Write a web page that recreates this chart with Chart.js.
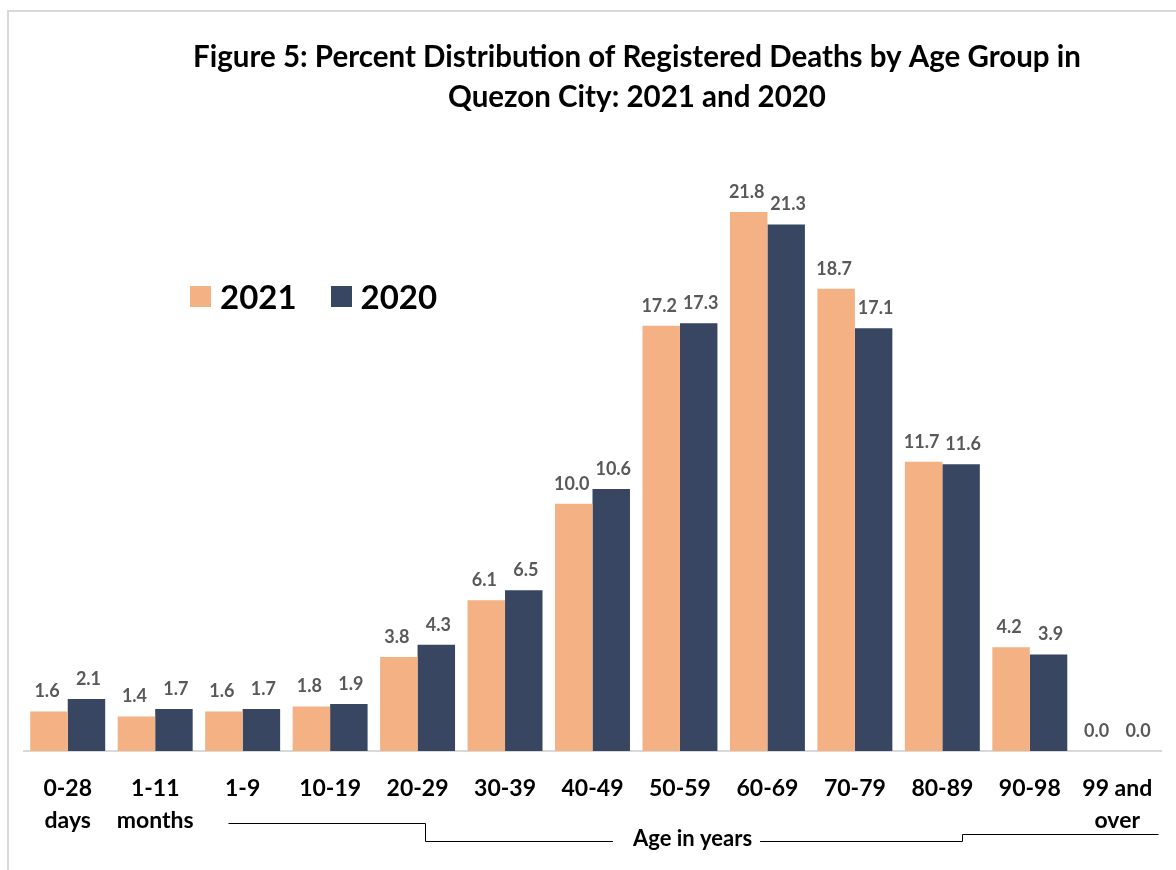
<!DOCTYPE html>
<html>
<head>
<meta charset="utf-8">
<script src="https://cdn.jsdelivr.net/npm/chart.js@4.4.1/dist/chart.umd.min.js"></script>
<style>
  body { margin: 0; background: #fff; font-family: Lato, "Open Sans", sans-serif; }
  #frame { position: absolute; left: 7px; top: 10px; width: 1300px; height: 1000px; border: 2px solid #d9d9d9; }
  #wrap { position: absolute; left: 0; top: 0; width: 1176px; height: 870px; }
  #legend-container ul { list-style: none; margin: 0; padding: 0; display: flex; }
  #legend-container li { display: flex; align-items: center; margin-right: 34px; font-size: 33px; font-weight: bold; color: #000; }
  #legend-container li span { display: inline-block; width: 21px; height: 21px; margin-right: 9px; }
  #legend-container { position: absolute; left: 190px; top: 276px; }
</style>
</head>
<body>
<div id="frame"></div>
<div id="wrap">
  <canvas id="myChart" width="1176" height="870"></canvas>
</div>
<div id="legend-container"></div>
<script>
const categories = [['0-28', 'days'], ['1-11', 'months'], '1-9', '10-19', '20-29', '30-39', '40-49',
  '50-59', '60-69', '70-79', '80-89', '90-98', ['99 and', 'over']];
const values2021 = [1.6, 1.4, 1.6, 1.8, 3.8, 6.1, 10.0, 17.2, 21.8, 18.7, 11.7, 4.2, 0.0];
const values2020 = [2.1, 1.7, 1.7, 1.9, 4.3, 6.5, 10.6, 17.3, 21.3, 17.1, 11.6, 3.9, 0.0];
const seriesNames = ['2021', '2020'];
const colors = ['#F4B183', '#384661'];
const titleLines = ['Figure 5: Percent Distribution of Registered Deaths by Age Group in', 'Quezon City: 2021 and 2020'];

// value labels above each bar
const valueLabels = {
  id: 'valueLabels',
  afterDatasetsDraw(chart) {
    const ctx = chart.ctx;
    ctx.save();
    ctx.font = 'bold 18px Lato';
    ctx.fillStyle = '#595959';
    ctx.textAlign = 'center';
    ctx.textBaseline = 'middle';
    chart.data.datasets.forEach((ds, i) => {
      chart.getDatasetMeta(i).data.forEach((bar, j) => {
        // nudge the pair apart a little, like the original labels
        const shift = i === 0 ? -2 : 2;
        ctx.fillText(ds.data[j].toFixed(1), bar.x + shift, bar.y - 20);
      });
    });
    ctx.restore();
  }
};

// title + "Age in years" bracket
const decorations = {
  id: 'decorations',
  afterDraw(chart) {
    const ctx = chart.ctx;
    const x = chart.scales.x;
    ctx.save();
    ctx.fillStyle = '#000';
    ctx.textAlign = 'center';
    ctx.textBaseline = 'middle';
    ctx.font = 'bold 29.5px Lato';
    ctx.fillText(titleLines[0], 637, 57);
    ctx.fillText(titleLines[1], 637, 97);

    const px = v => Math.round(x.getPixelForValue(v)) + 0.5;
    ctx.strokeStyle = '#000';
    ctx.lineWidth = 1;
    ctx.font = 'bold 22px Lato';
    const label = 'Age in years';
    const tx = px(7.14);
    const tw = ctx.measureText(label).width;
    ctx.fillText(label, tx, 839);
    ctx.beginPath();
    ctx.moveTo(px(1.83), 823.5);
    ctx.lineTo(px(4.08), 823.5);
    ctx.lineTo(px(4.08), 841.5);
    ctx.lineTo(tx - tw / 2 - 20, 841.5);
    ctx.moveTo(tx + tw / 2 + 8, 841.5);
    ctx.lineTo(px(10.22), 841.5);
    ctx.lineTo(px(10.22), 834.5);
    ctx.lineTo(px(12.46), 834.5);
    ctx.stroke();
    ctx.restore();
  }
};

const htmlLegend = {
  id: 'htmlLegend',
  afterUpdate(chart) {
    let ul = document.createElement('ul');
    chart.data.datasets.forEach(ds => {
      ul.innerHTML += `<li><span style="background-color: ${ds.backgroundColor};"></span>${ds.label}</li>`;
    });
    document.getElementById('legend-container').innerHTML = ul.outerHTML;
  }
};

const ctx = document.getElementById('myChart').getContext('2d');
new Chart(ctx, {
  type: 'bar',
  data: {
    labels: categories,
    datasets: [
      { label: seriesNames[0], data: values2021, backgroundColor: colors[0] },
      { label: seriesNames[1], data: values2020, backgroundColor: colors[1] }
    ]
  },
  options: {
    responsive: false,
    animation: false,
    layout: { padding: { left: 24, right: 15, top: 133, bottom: 19 } },
    datasets: { bar: { categoryPercentage: 0.857, barPercentage: 1, borderWidth: 0 } },
    plugins: {
      legend: { display: false },
      title: { display: false },
      tooltip: { enabled: false }
    },
    scales: {
      y: { display: false, min: 0, max: 25 },
      x: {
        grid: { display: false, drawTicks: false },
        border: { display: true, color: '#d9d9d9', width: 2 },
        ticks: {
          color: '#000',
          font: { family: 'Lato', weight: 'bold', size: 23, lineHeight: 1.39 },
          padding: 22,
          maxRotation: 0,
          autoSkip: false
        },
        afterFit(scale) { scale.height = 100; }
      }
    }
  },
  plugins: [valueLabels, decorations, htmlLegend]
});
</script>
</body>
</html>
